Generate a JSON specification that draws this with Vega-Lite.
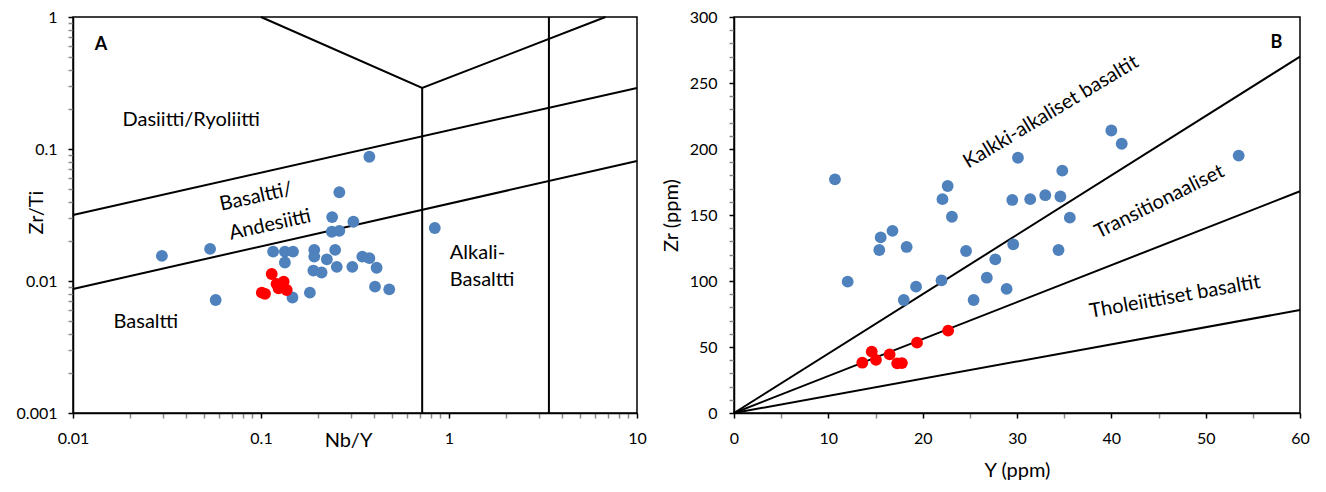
{
  "$schema": "https://vega.github.io/schema/vega-lite/v6.json",
  "background": "white",
  "padding": {"left": 15, "top": 8, "right": 5, "bottom": 5},
  "config": {
    "font": "Lato",
    "view": {"stroke": "black", "strokeWidth": 1.5},
    "axis": {
      "labelFont": "Lato", "labelFontSize": 16, "labelColor": "black",
      "titleFont": "Lato", "titleFontSize": 20, "titleFontWeight": "normal", "titleColor": "black",
      "domainColor": "black", "domainWidth": 1.5, "tickSize": 5, "tickWidth": 1.5,
      "grid": false, "labelFlush": false, "labelOverlap": false, "tickCount": 200
    },
    "text": {"font": "Lato", "fontSize": 20, "color": "black"}
  },
  "datasets": {
    "linesA": [
      {"seg": "upper", "o": 1, "NbY": 0.01, "ZrTi": 0.0316},
      {"seg": "upper", "o": 2, "NbY": 10, "ZrTi": 0.29},
      {"seg": "lower", "o": 1, "NbY": 0.01, "ZrTi": 0.0087},
      {"seg": "lower", "o": 2, "NbY": 10, "ZrTi": 0.081},
      {"seg": "alk", "o": 1, "NbY": 0.72, "ZrTi": 0.001},
      {"seg": "alk", "o": 2, "NbY": 0.72, "ZrTi": 0.29},
      {"seg": "v", "o": 1, "NbY": 0.1, "ZrTi": 1},
      {"seg": "v", "o": 2, "NbY": 0.72, "ZrTi": 0.29},
      {"seg": "v", "o": 3, "NbY": 6.8, "ZrTi": 1},
      {"seg": "foid", "o": 1, "NbY": 3.4, "ZrTi": 0.001},
      {"seg": "foid", "o": 2, "NbY": 3.4, "ZrTi": 1}
    ],
    "ptsA": [
      {"grp": "a", "NbY": 0.377, "ZrTi": 0.0874},
      {"grp": "a", "NbY": 0.261, "ZrTi": 0.047},
      {"grp": "a", "NbY": 0.239, "ZrTi": 0.0305},
      {"grp": "a", "NbY": 0.31, "ZrTi": 0.0281},
      {"grp": "a", "NbY": 0.238, "ZrTi": 0.0236},
      {"grp": "a", "NbY": 0.261, "ZrTi": 0.024},
      {"grp": "a", "NbY": 0.0297, "ZrTi": 0.0155},
      {"grp": "a", "NbY": 0.0536, "ZrTi": 0.0175},
      {"grp": "a", "NbY": 0.116, "ZrTi": 0.0167},
      {"grp": "a", "NbY": 0.134, "ZrTi": 0.0167},
      {"grp": "a", "NbY": 0.148, "ZrTi": 0.0167},
      {"grp": "a", "NbY": 0.134, "ZrTi": 0.0138},
      {"grp": "a", "NbY": 0.192, "ZrTi": 0.0172},
      {"grp": "a", "NbY": 0.192, "ZrTi": 0.0153},
      {"grp": "a", "NbY": 0.248, "ZrTi": 0.0172},
      {"grp": "a", "NbY": 0.224, "ZrTi": 0.0146},
      {"grp": "a", "NbY": 0.19, "ZrTi": 0.012},
      {"grp": "a", "NbY": 0.21, "ZrTi": 0.0116},
      {"grp": "a", "NbY": 0.253, "ZrTi": 0.0128},
      {"grp": "a", "NbY": 0.306, "ZrTi": 0.0128},
      {"grp": "a", "NbY": 0.346, "ZrTi": 0.0153},
      {"grp": "a", "NbY": 0.377, "ZrTi": 0.0149},
      {"grp": "a", "NbY": 0.412, "ZrTi": 0.0126},
      {"grp": "a", "NbY": 0.404, "ZrTi": 0.00906},
      {"grp": "a", "NbY": 0.481, "ZrTi": 0.00865},
      {"grp": "a", "NbY": 0.182, "ZrTi": 0.00816},
      {"grp": "a", "NbY": 0.147, "ZrTi": 0.0075},
      {"grp": "a", "NbY": 0.0574, "ZrTi": 0.00718},
      {"grp": "a", "NbY": 0.84, "ZrTi": 0.0252},
      {"grp": "b", "NbY": 0.114, "ZrTi": 0.0113},
      {"grp": "b", "NbY": 0.101, "ZrTi": 0.00816},
      {"grp": "b", "NbY": 0.121, "ZrTi": 0.0095},
      {"grp": "b", "NbY": 0.132, "ZrTi": 0.0099},
      {"grp": "b", "NbY": 0.137, "ZrTi": 0.00855},
      {"grp": "b", "NbY": 0.124, "ZrTi": 0.0088},
      {"grp": "b", "NbY": 0.105, "ZrTi": 0.008},
      {"grp": "b", "NbY": 0.128, "ZrTi": 0.0092}
    ],
    "labelsA": [
      {"key": "letter", "label": "A", "NbY": 0.0141, "ZrTi": 0.614},
      {"key": "flat", "label": "Dasiitti/Ryoliitti", "NbY": 0.0425, "ZrTi": 0.166},
      {"key": "flat", "label": "Basaltti", "NbY": 0.0244, "ZrTi": 0.00489},
      {"key": "tilt", "label": "Basaltti/", "NbY": 0.094, "ZrTi": 0.0433},
      {"key": "tilt", "label": "Andesiitti", "NbY": 0.1117, "ZrTi": 0.0266},
      {"key": "left", "label": "Alkali-", "NbY": 1.01, "ZrTi": 0.0163},
      {"key": "left", "label": "Basaltti", "NbY": 1.01, "ZrTi": 0.0102}
    ],
    "linesB": [
      {"seg": "calc", "Y": 0, "Zr": 0},
      {"seg": "calc", "Y": 60, "Zr": 270},
      {"seg": "trans", "Y": 0, "Zr": 0},
      {"seg": "trans", "Y": 60, "Zr": 168},
      {"seg": "thol", "Y": 0, "Zr": 0},
      {"seg": "thol", "Y": 60, "Zr": 78}
    ],
    "ptsB": [
      {"grp": "a", "Y": 10.7, "Zr": 177},
      {"grp": "a", "Y": 12.05, "Zr": 99.5},
      {"grp": "a", "Y": 15.55, "Zr": 133},
      {"grp": "a", "Y": 15.4, "Zr": 123.5},
      {"grp": "a", "Y": 16.8, "Zr": 138},
      {"grp": "a", "Y": 18.3, "Zr": 125.8},
      {"grp": "a", "Y": 18.0, "Zr": 85.6},
      {"grp": "a", "Y": 19.3, "Zr": 95.7},
      {"grp": "a", "Y": 22.0, "Zr": 100.5},
      {"grp": "a", "Y": 22.1, "Zr": 162},
      {"grp": "a", "Y": 22.65, "Zr": 172},
      {"grp": "a", "Y": 23.1, "Zr": 148.7},
      {"grp": "a", "Y": 24.6, "Zr": 122.7},
      {"grp": "a", "Y": 25.4, "Zr": 85.6},
      {"grp": "a", "Y": 26.8, "Zr": 102.5},
      {"grp": "a", "Y": 27.7, "Zr": 116.4},
      {"grp": "a", "Y": 28.9, "Zr": 94},
      {"grp": "a", "Y": 29.6, "Zr": 127.8},
      {"grp": "a", "Y": 30.1, "Zr": 193.4},
      {"grp": "a", "Y": 29.5, "Zr": 161.4},
      {"grp": "a", "Y": 31.4, "Zr": 162},
      {"grp": "a", "Y": 33.0, "Zr": 165},
      {"grp": "a", "Y": 34.6, "Zr": 164},
      {"grp": "a", "Y": 34.8, "Zr": 183.6},
      {"grp": "a", "Y": 35.6, "Zr": 148},
      {"grp": "a", "Y": 34.4, "Zr": 123.5},
      {"grp": "a", "Y": 40.0, "Zr": 214},
      {"grp": "a", "Y": 41.1, "Zr": 204},
      {"grp": "a", "Y": 53.5, "Zr": 195},
      {"grp": "b", "Y": 13.6, "Zr": 38.1},
      {"grp": "b", "Y": 14.6, "Zr": 46.5},
      {"grp": "b", "Y": 15.05, "Zr": 40.2},
      {"grp": "b", "Y": 16.5, "Zr": 44.4},
      {"grp": "b", "Y": 17.3, "Zr": 37.6},
      {"grp": "b", "Y": 17.8, "Zr": 37.8},
      {"grp": "b", "Y": 19.4, "Zr": 53.3},
      {"grp": "b", "Y": 22.7, "Zr": 62.4}
    ],
    "labelsB": [
      {"key": "letter", "label": "B", "Y": 57.5, "Zr": 280},
      {"key": "calc", "label": "Kalkki-alkaliset basaltit", "Y": 33.6, "Zr": 228},
      {"key": "trans", "label": "Transitionaaliset", "Y": 45.1, "Zr": 160},
      {"key": "thol", "label": "Tholeiittiset basaltit", "Y": 46.75, "Zr": 88}
    ]
  },
  "spacing": 97,
  "bounds": "flush",
  "hconcat": [
    {
      "width": 564,
      "height": 396,
      "layer": [
        {
          "data": {"name": "linesA"},
          "mark": {"type": "line", "color": "black", "strokeWidth": 2},
          "encoding": {
            "x": {
              "field": "NbY", "type": "quantitative",
              "scale": {"type": "log", "domain": [0.01, 10], "nice": false},
              "axis": {
                "title": "Nb/Y", "titleX": 275, "titleY": 27, "titleBaseline": "middle",
                "values": [0.01, 0.02, 0.03, 0.04, 0.05, 0.06, 0.07, 0.08, 0.09, 0.1, 0.2, 0.3, 0.4, 0.5, 0.6, 0.7, 0.8, 0.9, 1, 2, 3, 4, 5, 6, 7, 8, 9, 10],
                "format": "~g", "labelOverlap": false, "tickCount": 200,
                "labelExpr": "indexof([0.01, 0.1, 1, 10], datum.value) >= 0 ? datum.label : ''",
                "labelPadding": 12,
                "tickColor": {"condition": {"test": "indexof([0.01, 0.1, 1, 10], datum.value) >= 0", "value": "black"}, "value": "#8c8c8c"}
              }
            },
            "y": {
              "field": "ZrTi", "type": "quantitative",
              "scale": {"type": "log", "domain": [0.001, 1], "nice": false},
              "axis": {
                "title": "Zr/Ti", "titleX": -37, "titleY": 195, "titleAngle": -90, "titleBaseline": "middle", "titleAlign": "center",
                "values": [0.001, 0.002, 0.003, 0.004, 0.005, 0.006, 0.007, 0.008, 0.009, 0.01, 0.02, 0.03, 0.04, 0.05, 0.06, 0.07, 0.08, 0.09, 0.1, 0.2, 0.3, 0.4, 0.5, 0.6, 0.7, 0.8, 0.9, 1],
                "format": "~g", "labelOverlap": false, "tickCount": 200,
                "labelExpr": "indexof([0.001, 0.01, 0.1, 1], datum.value) >= 0 ? datum.label : ''",
                "labelPadding": 11,
                "tickColor": {"condition": {"test": "indexof([0.001, 0.01, 0.1, 1], datum.value) >= 0", "value": "black"}, "value": "#8c8c8c"}
              }
            },
            "detail": {"field": "seg"},
            "order": {"field": "o"}
          }
        },
        {
          "data": {"name": "ptsA"},
          "mark": {"type": "circle", "opacity": 1, "size": 140},
          "encoding": {
            "x": {"field": "NbY", "type": "quantitative"},
            "y": {"field": "ZrTi", "type": "quantitative"},
            "color": {"field": "grp", "type": "nominal", "scale": {"domain": ["a", "b"], "range": ["#4F81BD", "#FF0000"]}, "legend": null}
          }
        },
        {
          "data": {"name": "labelsA"},
          "transform": [{"filter": "datum.key == 'letter'"}],
          "mark": {"type": "text", "fontWeight": "bold", "fontSize": 18, "align": "center", "baseline": "middle"},
          "encoding": {"x": {"field": "NbY", "type": "quantitative"}, "y": {"field": "ZrTi", "type": "quantitative"}, "text": {"field": "label"}}
        },
        {
          "data": {"name": "labelsA"},
          "transform": [{"filter": "datum.key == 'flat'"}],
          "mark": {"type": "text", "align": "center", "baseline": "middle"},
          "encoding": {"x": {"field": "NbY", "type": "quantitative"}, "y": {"field": "ZrTi", "type": "quantitative"}, "text": {"field": "label"}}
        },
        {
          "data": {"name": "labelsA"},
          "transform": [{"filter": "datum.key == 'tilt'"}],
          "mark": {"type": "text", "align": "center", "baseline": "middle", "angle": -12.5},
          "encoding": {"x": {"field": "NbY", "type": "quantitative"}, "y": {"field": "ZrTi", "type": "quantitative"}, "text": {"field": "label"}}
        },
        {
          "data": {"name": "labelsA"},
          "transform": [{"filter": "datum.key == 'left'"}],
          "mark": {"type": "text", "align": "left", "baseline": "middle"},
          "encoding": {"x": {"field": "NbY", "type": "quantitative"}, "y": {"field": "ZrTi", "type": "quantitative"}, "text": {"field": "label"}}
        }
      ]
    },
    {
      "width": 566,
      "height": 396,
      "layer": [
        {
          "data": {"name": "linesB"},
          "mark": {"type": "line", "color": "black", "strokeWidth": 2},
          "encoding": {
            "x": {
              "field": "Y", "type": "quantitative",
              "scale": {"domain": [0, 60], "nice": false},
              "axis": {
                "title": "Y (ppm)", "titleX": 283, "titleY": 57, "titleBaseline": "middle",
                "values": [0, 5, 10, 15, 20, 25, 30, 35, 40, 45, 50, 55, 60],
                "format": "d", "labelOverlap": false, "tickCount": 200,
                "labelExpr": "datum.value % 10 == 0 ? datum.label : ''",
                "labelPadding": 12,
                "tickColor": {"condition": {"test": "datum.value % 10 == 0", "value": "black"}, "value": "#8c8c8c"}
              }
            },
            "y": {
              "field": "Zr", "type": "quantitative",
              "scale": {"domain": [0, 300], "nice": false},
              "axis": {
                "title": "Zr (ppm)", "titleX": -63, "titleY": 198, "titleAngle": -90, "titleBaseline": "middle", "titleAlign": "center",
                "values": [0, 10, 20, 30, 40, 50, 60, 70, 80, 90, 100, 110, 120, 130, 140, 150, 160, 170, 180, 190, 200, 210, 220, 230, 240, 250, 260, 270, 280, 290, 300],
                "format": "d", "labelOverlap": false, "tickCount": 200,
                "labelExpr": "datum.value % 50 == 0 ? datum.label : ''",
                "labelPadding": 12,
                "tickColor": {"condition": {"test": "datum.value % 50 == 0", "value": "black"}, "value": "#8c8c8c"}
              }
            },
            "detail": {"field": "seg"}
          }
        },
        {
          "data": {"name": "ptsB"},
          "mark": {"type": "circle", "opacity": 1, "size": 140},
          "encoding": {
            "x": {"field": "Y", "type": "quantitative"},
            "y": {"field": "Zr", "type": "quantitative"},
            "color": {"field": "grp", "type": "nominal", "scale": {"domain": ["a", "b"], "range": ["#4F81BD", "#FF0000"]}, "legend": null}
          }
        },
        {
          "data": {"name": "labelsB"},
          "transform": [{"filter": "datum.key == 'letter'"}],
          "mark": {"type": "text", "fontWeight": "bold", "fontSize": 18, "align": "center", "baseline": "middle"},
          "encoding": {"x": {"field": "Y", "type": "quantitative"}, "y": {"field": "Zr", "type": "quantitative"}, "text": {"field": "label"}}
        },
        {
          "data": {"name": "labelsB"},
          "transform": [{"filter": "datum.key == 'calc'"}],
          "mark": {"type": "text", "align": "center", "baseline": "middle", "angle": -31},
          "encoding": {"x": {"field": "Y", "type": "quantitative"}, "y": {"field": "Zr", "type": "quantitative"}, "text": {"field": "label"}}
        },
        {
          "data": {"name": "labelsB"},
          "transform": [{"filter": "datum.key == 'trans'"}],
          "mark": {"type": "text", "align": "center", "baseline": "middle", "angle": -26.5},
          "encoding": {"x": {"field": "Y", "type": "quantitative"}, "y": {"field": "Zr", "type": "quantitative"}, "text": {"field": "label"}}
        },
        {
          "data": {"name": "labelsB"},
          "transform": [{"filter": "datum.key == 'thol'"}],
          "mark": {"type": "text", "align": "center", "baseline": "middle", "angle": -10},
          "encoding": {"x": {"field": "Y", "type": "quantitative"}, "y": {"field": "Zr", "type": "quantitative"}, "text": {"field": "label"}}
        }
      ]
    }
  ]
}
